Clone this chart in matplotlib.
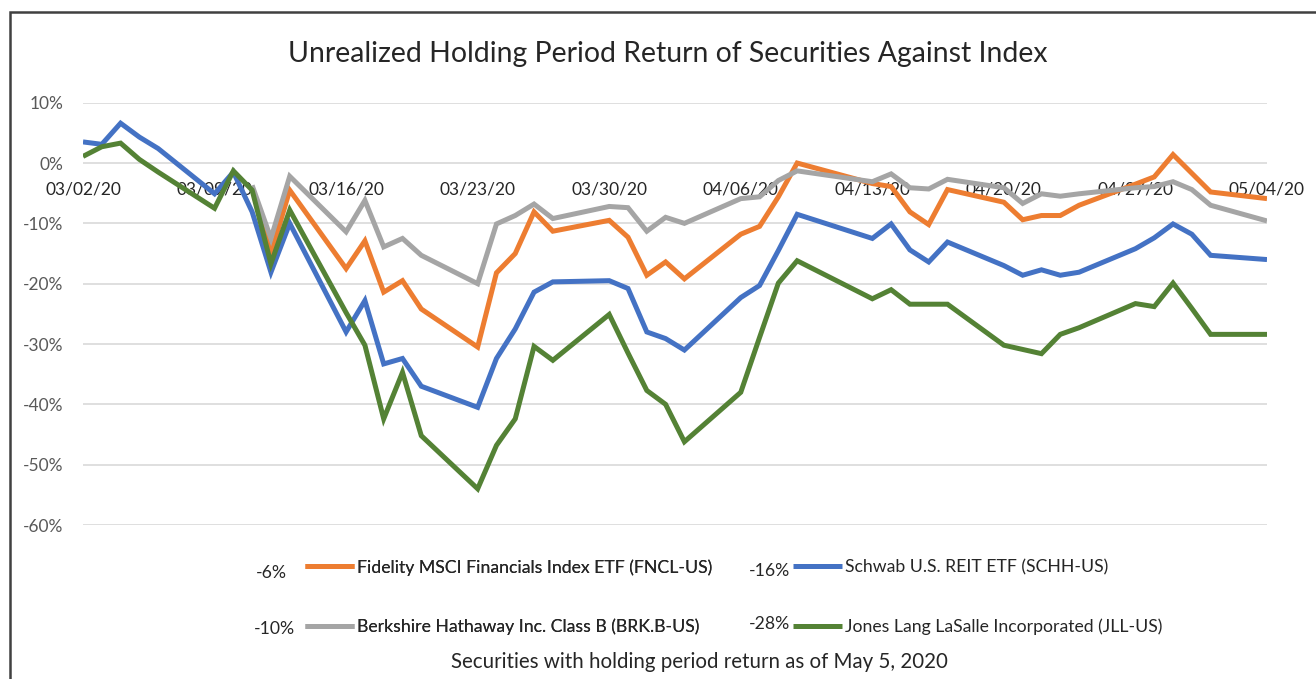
import numpy as np
import pandas as pd
import matplotlib
matplotlib.use("Agg")
import matplotlib.pyplot as plt
import matplotlib.dates as mdates
from matplotlib.ticker import MultipleLocator, FuncFormatter
from matplotlib.patches import Rectangle

plt.rcParams['font.family'] = ['Lato', 'DejaVu Sans']

dates = pd.to_datetime([
    "2020-03-02", "2020-03-03", "2020-03-04", "2020-03-05", "2020-03-06",
    "2020-03-09", "2020-03-10", "2020-03-11", "2020-03-12", "2020-03-13",
    "2020-03-16", "2020-03-17", "2020-03-18", "2020-03-19", "2020-03-20",
    "2020-03-23", "2020-03-24", "2020-03-25", "2020-03-26", "2020-03-27",
    "2020-03-30", "2020-03-31", "2020-04-01", "2020-04-02", "2020-04-03",
    "2020-04-06", "2020-04-07", "2020-04-08", "2020-04-09",
    "2020-04-13", "2020-04-14", "2020-04-15", "2020-04-16", "2020-04-17",
    "2020-04-20", "2020-04-21", "2020-04-22", "2020-04-23", "2020-04-24",
    "2020-04-27", "2020-04-28", "2020-04-29", "2020-04-30", "2020-05-01",
    "2020-05-04"])

nan = np.nan
fncl = [nan, nan, nan, nan, nan,
        nan, nan, -4.0, -15.0, -4.5,
        -17.5, -12.9, -21.4, -19.5, -24.2,
        -30.5, -18.2, -15.0, -8.1, -11.3,
        -9.5, -12.3, -18.6, -16.4, -19.2,
        -11.8, -10.5, -5.6, 0.0,
        -3.4, -3.9, -8.1, -10.2, -4.4,
        -6.5, -9.4, -8.7, -8.7, -7.0,
        -3.5, -2.3, 1.4, -1.7, -4.8,
        -5.9]
schh = [3.5, 3.1, 6.6, 4.3, 2.4,
        -5.1, -1.5, -8.1, -18.1, -10.0,
        -28.0, -22.8, -33.3, -32.4, -37.0,
        -40.5, -32.4, -27.5, -21.4, -19.7,
        -19.5, -20.8, -28.0, -29.1, -31.0,
        -22.3, -20.3, -14.5, -8.5,
        -12.5, -10.1, -14.4, -16.4, -13.1,
        -17.0, -18.6, -17.7, -18.6, -18.1,
        -14.2, -12.4, -10.1, -11.8, -15.3,
        -16.0]
brk = [nan, nan, nan, nan, nan,
       nan, nan, -3.7, -12.5, -2.2,
       -11.4, -6.2, -13.9, -12.5, -15.3,
       -20.0, -10.1, -8.7, -6.8, -9.2,
       -7.2, -7.4, -11.3, -9.0, -10.0,
       -5.9, -5.6, -2.9, -1.3,
       -3.1, -1.8, -4.1, -4.3, -2.7,
       -4.1, -6.7, -5.1, -5.5, -5.1,
       -4.1, -3.9, -3.1, -4.4, -7.0,
       -9.6]
jll = [1.1, 2.7, 3.3, 0.6, -1.5,
       -7.5, -1.3, -4.5, -16.7, -7.8,
       -24.8, -30.2, -42.4, -34.7, -45.2,
       -54.0, -46.8, -42.4, -30.4, -32.7,
       -25.1, -31.5, -37.7, -40.0, -46.2,
       -38.0, -28.9, -19.9, -16.2,
       -22.5, -21.0, -23.4, -23.4, -23.4,
       -30.2, -30.9, -31.6, -28.4, -27.3,
       -23.3, -23.8, -19.9, -24.1, -28.4,
       -28.4]

names = ["Fidelity MSCI Financials Index ETF (FNCL-US)",
         "Schwab U.S. REIT ETF (SCHH-US)",
         "Berkshire Hathaway Inc. Class B (BRK.B-US)",
         "Jones Lang LaSalle Incorporated (JLL-US)"]
final_returns = ["-6%", "-16%", "-10%", "-28%"]
colors = ["#ED7D31", "#4472C4", "#A5A5A5", "#548235"]
series = [fncl, schh, brk, jll]

title = "Unrealized Holding Period Return of Securities Against Index"
caption = "Securities with holding period return as of May 5, 2020"

W, H = 1316, 679
fig = plt.figure(figsize=(W / 100, H / 100), dpi=100)
ax = fig.add_axes([83 / W, 1 - 525 / H, (1267 - 83) / W, (525 - 102.7) / H])

lines = []
for s, c, n in zip(series, colors, names):
    ln, = ax.plot(dates, s, color=c, lw=3.6, label=n, solid_joinstyle='miter',
                  solid_capstyle='butt', zorder=3)
    lines.append(ln)

ax.set_ylim(-60, 10)
ax.set_xlim(dates[0], dates[-1])
ax.yaxis.set_major_locator(MultipleLocator(10))
ax.yaxis.set_major_formatter(FuncFormatter(lambda v, p: f"{v:.0f}%"))
ax.set_xticks(pd.date_range(dates[0], dates[-1], freq="7D"))
ax.xaxis.set_major_formatter(mdates.DateFormatter("%m/%d/%y"))
ax.grid(axis='y', color='#D9D9D9', lw=1.2, zorder=0)
ax.set_axisbelow(True)
for sp in ['top', 'right', 'left']:
    ax.spines[sp].set_visible(False)
ax.spines['bottom'].set_position(('data', 0))
ax.spines['bottom'].set_visible(False)
ax.tick_params(axis='both', length=0, colors='#404040', labelsize=12.5)
ax.tick_params(axis='y', pad=14, labelcolor='#595959')
ax.tick_params(axis='x', pad=13, labelcolor='#262626')

fig.text(668 / W, 1 - 54 / H, title, ha='center', va='center',
         fontsize=20.4, color='#262626')

leg_kw = dict(loc='upper left', frameon=False, fontsize=12.7,
              handlelength=2.75, handletextpad=0.2, labelspacing=2.45,
              borderpad=0, borderaxespad=0, labelcolor='#262626')
leg1 = fig.legend([lines[0], lines[2]], [names[0], names[2]],
                  bbox_to_anchor=(305 / W, 1 - 559 / H), **leg_kw)
leg2 = fig.legend([lines[1], lines[3]], [names[1], names[3]],
                  bbox_to_anchor=(793 / W, 1 - 559 / H), **leg_kw)
fig.add_artist(leg1)

ret_pos = [(287, 573), (790, 571), (295, 629), (790, 624)]
for (x, y), t in zip(ret_pos, final_returns):
    fig.text(x / W, 1 - y / H, t, ha='right', va='center', fontsize=12.7,
             color='#262626')

fig.text(699 / W, 1 - 662 / H, caption, ha='center', va='center',
         fontsize=14.8, color='#262626')

fig.patches.append(Rectangle((9.5 / W, -0.1), 1.2, 1 - 11.5 / H + 0.1,
                             transform=fig.transFigure, fill=False,
                             edgecolor='#404040', lw=1.8, zorder=10))

fig.savefig("out.png", dpi=100, facecolor='white')
